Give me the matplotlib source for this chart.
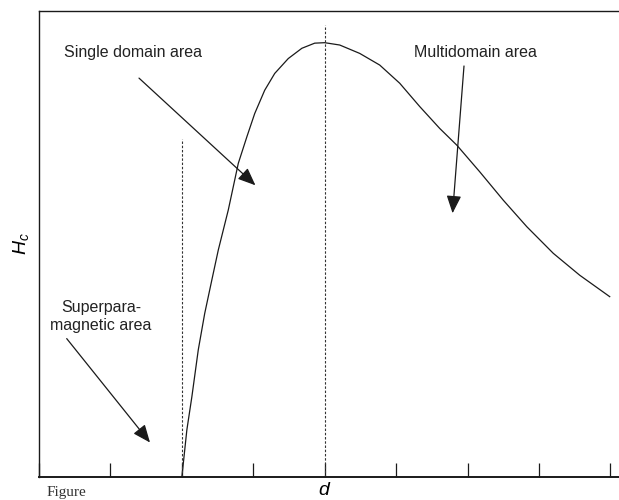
import numpy as np
import matplotlib.pyplot as plt

plt.rcParams["font.family"] = ["Liberation Sans", "DejaVu Sans"]
plt.rcParams["mathtext.fontset"] = "custom"
plt.rcParams["mathtext.it"] = "Liberation Sans:italic"
plt.rcParams["mathtext.rm"] = "Liberation Sans"

# coercivity vs particle size (arbitrary units)
d = [2.00, 2.07, 2.14, 2.23, 2.32, 2.42, 2.51, 2.65, 2.79, 2.91, 3.02, 3.16,
     3.30, 3.49, 3.68, 3.86, 4.00, 4.21, 4.49, 4.77, 5.05, 5.33, 5.61, 5.85,
     6.17, 6.50, 6.83, 7.20, 7.57, 7.99]
Hc = [0.000, 0.101, 0.172, 0.273, 0.351, 0.423, 0.487, 0.573, 0.673, 0.730,
      0.780, 0.830, 0.866, 0.898, 0.920, 0.931, 0.932, 0.927, 0.909, 0.884,
      0.845, 0.795, 0.748, 0.712, 0.655, 0.594, 0.537, 0.480, 0.433, 0.387]

# boundaries: superparamagnetic limit and single/multi domain peak
d_sp, d_sp_top = 2.0, 0.725
d_peak, d_peak_top = 4.0, 0.97

fig = plt.figure(figsize=(6.19, 5.0), dpi=100)
ax = fig.add_axes([0.063, 0.046, 0.937, 0.932])

ink = "#1a1a1a"
ax.plot(d, Hc, color=ink, lw=0.9, solid_joinstyle="round")
ax.vlines([d_sp, d_peak], 0, [d_sp_top, d_peak_top], colors="#333333",
          linestyles=(0, (2.2, 1.6)), lw=0.8)

ax.set_xlim(0, 8.12)
ax.set_ylim(0, 1)
ax.set_xticks(np.arange(0, 9))
ax.set_yticks([])
ax.tick_params(axis="x", direction="in", length=10, width=0.9, color=ink,
               labelbottom=False)
ax.spines["right"].set_visible(False)
for s in ["left", "top", "bottom"]:
    ax.spines[s].set_color(ink)
    ax.spines[s].set_linewidth(1.0)
ax.spines["bottom"].set_linewidth(1.4)

ax.set_ylabel("$H_c$", fontsize=14, labelpad=6)
ax.text(4.0, -0.01, "$d$", fontsize=14, ha="center", va="top")

arrow = dict(arrowstyle="-|>,head_length=0.6,head_width=0.25", color=ink,
             lw=0.9, mutation_scale=18, shrinkA=0, shrinkB=0)
ax.annotate("", xy=(3.03, 0.626), xytext=(1.40, 0.856), arrowprops=arrow)
ax.annotate("", xy=(5.79, 0.566), xytext=(5.95, 0.882), arrowprops=arrow)
ax.annotate("", xy=(1.554, 0.074), xytext=(0.388, 0.297), arrowprops=arrow)

label_kw = dict(fontsize=11.5, color="#222222", ha="center", va="center")
ax.text(1.32, 0.910, "Single domain area", **label_kw)
ax.text(6.11, 0.910, "Multidomain area", **label_kw)
ax.text(0.868, 0.344, "Superpara-\nmagnetic area", linespacing=1.2,
        **label_kw)

fig.text(0.075, 0.008, "Figure", family=["Liberation Serif", "DejaVu Serif"],
         fontsize=11, color="#333333", ha="left", va="baseline")

fig.savefig("out.png", dpi=100, facecolor="white")
